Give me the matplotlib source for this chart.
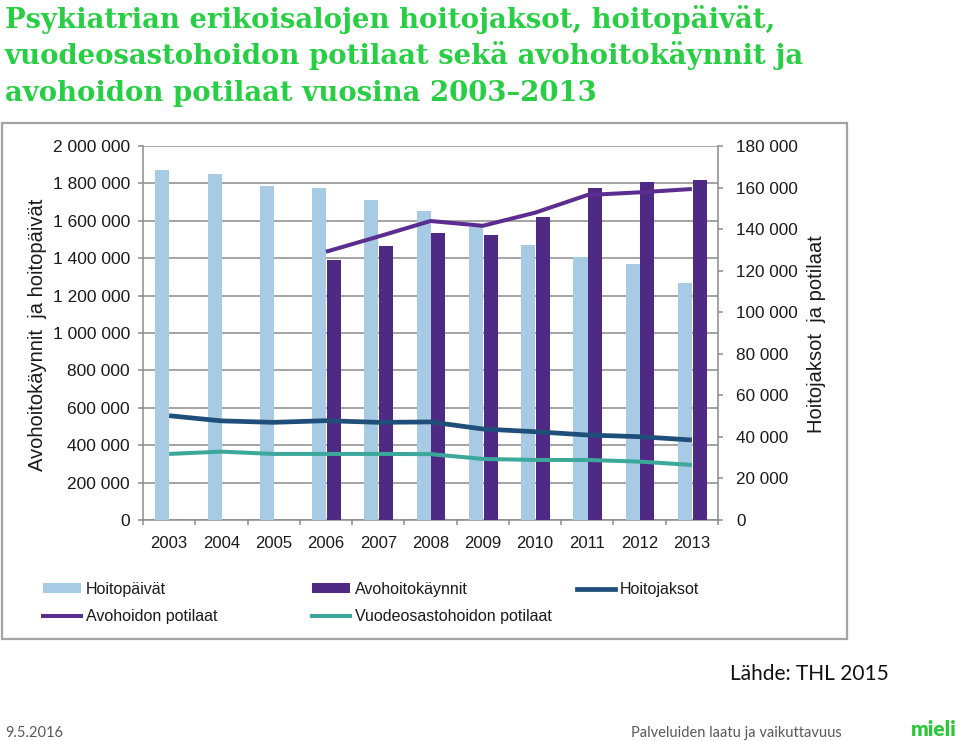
import numpy as np
import matplotlib
matplotlib.use("Agg")
import matplotlib.pyplot as plt
from matplotlib.patches import Rectangle, Patch
from matplotlib.lines import Line2D
from matplotlib.ticker import FuncFormatter, FixedLocator

# ---------------- data ----------------
years = ["2003", "2004", "2005", "2006", "2007", "2008", "2009", "2010", "2011", "2012", "2013"]
hoitopaivat = [1870000, 1848000, 1784000, 1777000, 1709000, 1652000, 1565000, 1471000, 1404000, 1367000, 1266000]
avohoitokaynnit = [np.nan, np.nan, np.nan, 1390000, 1465000, 1533000, 1524000, 1619000, 1777000, 1806000, 1818000]
hoitojaksot = [50200, 47700, 47000, 47800, 47000, 47200, 43800, 42500, 40900, 40100, 38500]
avohoidon_potilaat = [np.nan, np.nan, np.nan, 129100, 136400, 143900, 141600, 147900, 156400, 157700, 159300]
vuodeosasto_potilaat = [31800, 32900, 31800, 31800, 31800, 31700, 29400, 28900, 28900, 28100, 26500]

left_ticks = list(range(0, 2000001, 200000))
right_ticks = list(range(0, 180001, 20000))

title_lines = ["Psykiatrian erikoisalojen hoitojaksot, hoitopäivät,",
               "vuodeosastohoidon potilaat sekä avohoitokäynnit ja",
               "avohoidon potilaat vuosina 2003\u20132013"]

# ---------------- style ----------------
c_light = "#A7CBE5"
c_purple_bar = "#4E2A84"
c_purple_line = "#5B2D90"
c_darkblue = "#1F4E7A"
c_teal = "#3BA899"
c_grid = "#8C8C8C"
c_title = "#28CF45"
sans = ["Liberation Sans", "DejaVu Sans"]

W, H = 960, 741
fig = plt.figure(figsize=(W / 100, H / 100), dpi=100)
fig.patch.set_facecolor("white")

def fx(px):
    return px / W

def fy(py):
    return 1 - py / H

# outer chart frame
fig.add_artist(Rectangle((fx(2), fy(639)), fx(847) - fx(2), fy(123) - fy(639),
                         transform=fig.transFigure, fill=False, edgecolor="#A3A3A3", linewidth=1.6))

ax = fig.add_axes([fx(143), fy(520), fx(718) - fx(143), fy(146) - fy(520)])
ax2 = ax.twinx()

x = np.arange(len(years))
bw = 0.27
ax.bar(x - 0.13, hoitopaivat, width=bw, color=c_light, zorder=3)
ax.bar(x + 0.15, avohoitokaynnit, width=bw, color=c_purple_bar, zorder=3)

ax2.plot(x, avohoidon_potilaat, color=c_purple_line, lw=2.9, solid_capstyle="butt")
ax2.plot(x, hoitojaksot, color=c_darkblue, lw=3.4, solid_capstyle="butt")
ax2.plot(x, vuodeosasto_potilaat, color=c_teal, lw=2.9, solid_capstyle="butt")

ax.set_xlim(-0.5, len(years) - 0.5)
ax.set_ylim(0, 2000000)
ax2.set_ylim(0, 180000)

fmt = FuncFormatter(lambda v, p: f"{int(v):,}".replace(",", " "))
ax.set_yticks(left_ticks)
ax.yaxis.set_major_formatter(fmt)
ax2.set_yticks(right_ticks)
ax2.yaxis.set_major_formatter(fmt)

ax.set_xticks(x)
ax.set_xticklabels(years)
ax.xaxis.set_minor_locator(FixedLocator(np.arange(-0.5, len(years), 1.0)))
ax.tick_params(axis="x", which="major", length=0, labelsize=12, pad=11.5, labelcolor="#1a1a1a")
ax.tick_params(axis="x", which="minor", length=3.6, width=1.1, color=c_grid)
ax.tick_params(axis="y", length=3.6, width=1.1, color=c_grid, labelsize=12.5, pad=5.8, labelcolor="#1a1a1a")
ax2.tick_params(axis="y", length=3.6, width=1.1, color=c_grid, labelsize=12.3, pad=9.4, labelcolor="#1a1a1a")

for lab in ax.get_xticklabels() + ax.get_yticklabels() + ax2.get_yticklabels():
    lab.set_family(sans)

ax.yaxis.grid(True, color=c_grid, lw=1.1, zorder=0)
ax.set_axisbelow(True)
for a in (ax, ax2):
    a.spines["top"].set_visible(False)
    for s in ("left", "right", "bottom"):
        a.spines[s].set_color(c_grid)
        a.spines[s].set_linewidth(1.1)
ax.spines["right"].set_visible(False)
ax2.spines["left"].set_visible(False)
ax2.spines["bottom"].set_visible(False)

# axis titles
fig.text(fx(38), fy(335), "Avohoitokäynnit  ja hoitopäivät", rotation=90, ha="center", va="center",
         fontsize=14.5, family=sans, color="#1a1a1a")
fig.text(fx(816), fy(334), "Hoitojaksot  ja potilaat", rotation=90, ha="center", va="center",
         fontsize=14.5, family=sans, color="#1a1a1a")

# legend (three columns, placed per column)
h_light = Patch(facecolor=c_light, edgecolor="none")
h_purple = Patch(facecolor=c_purple_bar, edgecolor="none")
h_dark = Line2D([], [], color=c_darkblue, lw=3.4)
h_pline = Line2D([], [], color=c_purple_line, lw=2.9)
h_teal = Line2D([], [], color=c_teal, lw=2.9)
legend_cols = [
    (43, [h_light, h_pline], ["Hoitopäivät", "Avohoidon potilaat"]),
    (312, [h_purple, h_teal], ["Avohoitokäynnit", "Vuodeosastohoidon potilaat"]),
    (577, [h_dark], ["Hoitojaksot"]),
]
for xpx, hs, ls in legend_cols:
    leg = fig.legend(hs, ls, loc="upper left", bbox_to_anchor=(fx(xpx), fy(582)),
                     frameon=False, borderpad=0, borderaxespad=0, handlelength=2.4,
                     handleheight=0.6, handletextpad=0.3, labelspacing=0.75,
                     prop={"family": sans, "size": 11.5})
    for t in leg.get_texts():
        t.set_color("#1a1a1a")

# title
for i, line in enumerate(title_lines):
    fig.text(fx(5), fy(28 + 36.5 * i), line, ha="left", va="baseline", fontsize=19.8,
             family=["DejaVu Serif"], fontweight="bold", color=c_title)

# footer
fig.text(fx(889), fy(680), "Lähde: THL 2015", ha="right", va="baseline", fontsize=15,
         family=["Lato", "DejaVu Sans"], color="#111111")
fig.text(fx(5), fy(737), "9.5.2016", ha="left", va="baseline", fontsize=10.5,
         family=["Lato", "DejaVu Sans"], color="#595959")
fig.text(fx(842), fy(737), "Palveluiden laatu ja vaikuttavuus", ha="right", va="baseline", fontsize=10.5,
         family=["Lato", "DejaVu Sans"], color="#595959")
fig.text(fx(957), fy(736), "mieli", ha="right", va="baseline", fontsize=15,
         family=["Lato", "DejaVu Sans"], fontweight="heavy", color="#2CC83A")

fig.savefig("out.png", dpi=100, facecolor="white")
